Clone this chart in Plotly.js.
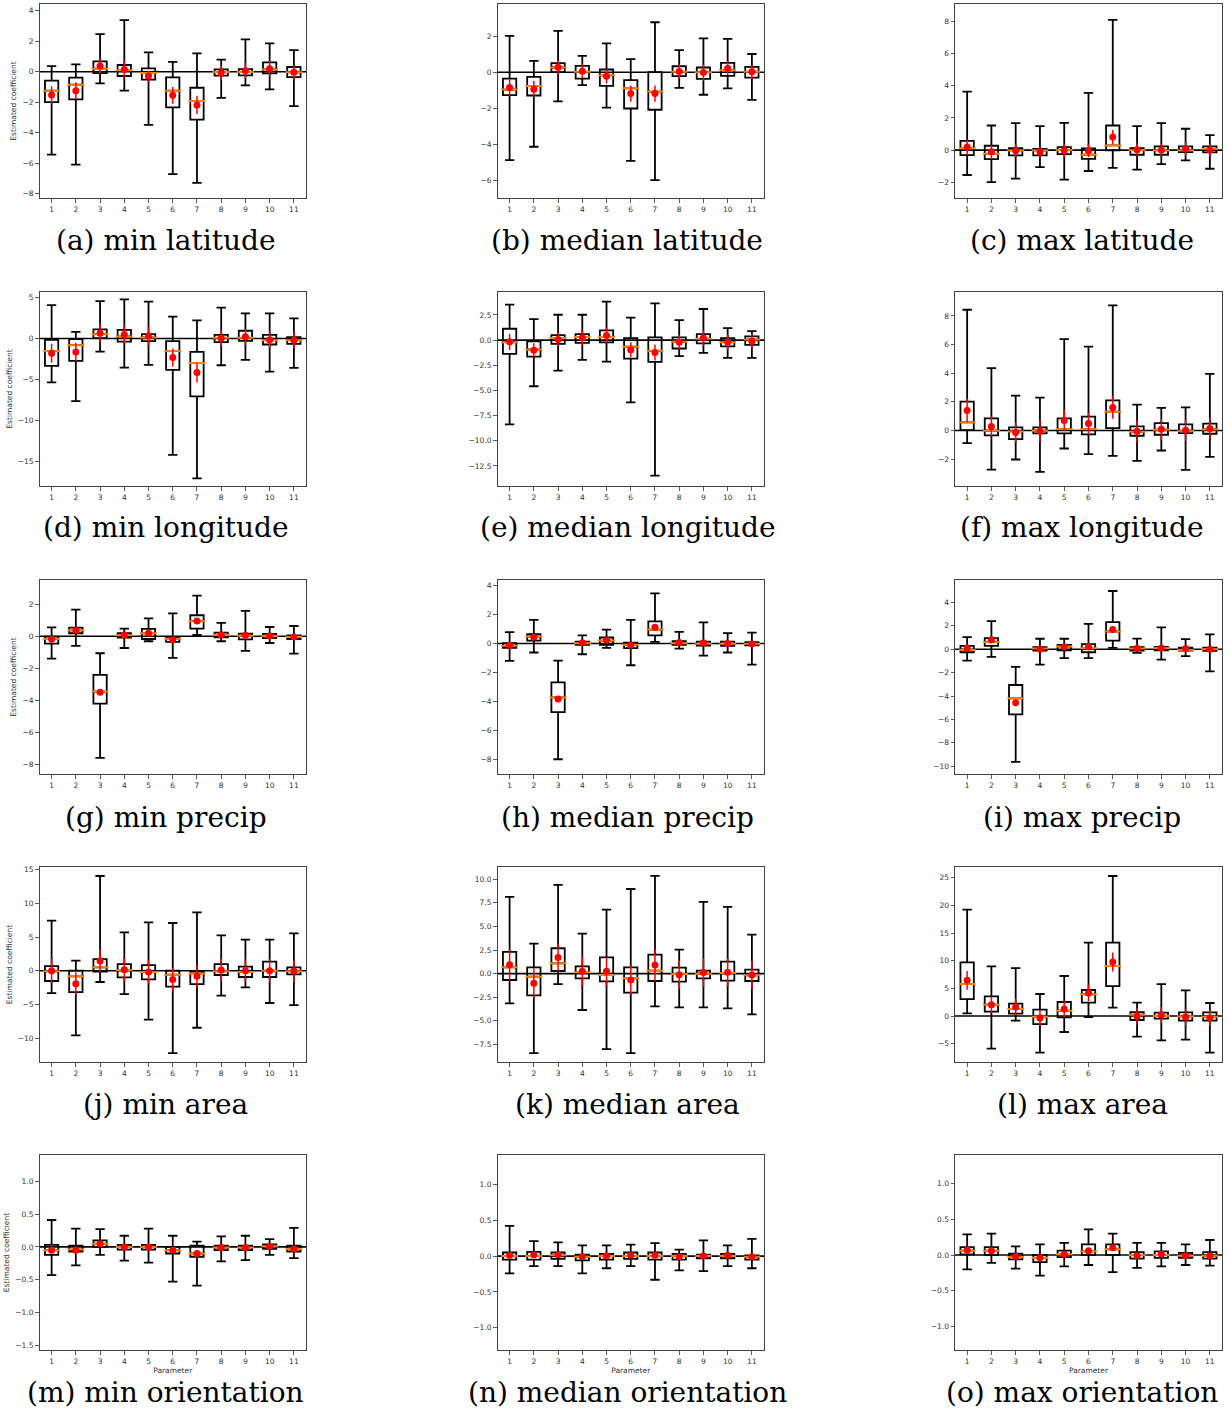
<!DOCTYPE html>
<html><head><meta charset="utf-8">
<script src="https://cdn.plot.ly/plotly-3.0.1.min.js"></script>
<style>body{margin:0;background:#fff}#chart{width:1229px;height:1412px}</style>
</head><body><div id="chart"></div>
<script>
const params = [1,2,3,4,5,6,7,8,9,10,11];
const captions = ['(a) min latitude','(b) median latitude','(c) max latitude',
  '(d) min longitude','(e) median longitude','(f) max longitude',
  '(g) min precip','(h) median precip','(i) max precip',
  '(j) min area','(k) median area','(l) max area',
  '(m) min orientation','(n) median orientation','(o) max orientation'];
const yRanges = [[-8.28,4.44],[-6.97,3.78],[-2.98,9.09],
  [-17.96,5.66],[-14.49,4.78],[-3.88,9.67],
  [-8.59,3.51],[-9.03,4.4],[-10.66,5.91],
  [-13.56,15.4],[-9.36,11.3],[-8.31,26.93],
  [-1.57,1.4],[-1.31,1.41],[-1.33,1.4]];
const yDticks = [2,2,2, 5,2.5,2, 2,2,2, 5,2.5,5, 0.5,0.5,0.5];
const yLabel = 'Estimated coefficient';
const xLabel = 'Parameter';

const upperWhisker = [
  [0.37,0.48,2.47,3.38,1.27,0.65,1.20,0.79,2.12,1.86,1.42],
  [2.01,0.63,2.29,0.90,1.60,0.72,2.77,1.22,1.88,1.85,1.01],
  [3.64,1.53,1.68,1.49,1.70,3.56,8.10,1.49,1.68,1.33,0.93],
  [4.07,0.81,4.56,4.77,4.48,2.65,2.20,3.75,3.05,3.05,2.44],
  [3.52,2.09,2.52,2.52,3.82,2.23,3.65,1.99,3.09,1.20,0.90],
  [8.43,4.35,2.43,2.29,6.38,5.86,8.74,1.80,1.57,1.61,3.95],
  [0.56,1.66,-1.06,0.48,1.12,1.43,2.54,0.83,1.58,0.58,0.64],
  [0.79,1.64,-1.18,0.56,0.97,1.64,3.47,0.81,1.46,0.72,0.76],
  [1.03,2.40,-1.51,0.89,0.89,2.17,4.97,0.91,1.86,0.86,1.26],
  [7.43,1.49,14.06,5.69,7.18,7.08,8.66,5.25,4.60,4.60,5.54],
  [8.13,3.18,9.40,4.24,6.78,8.97,10.35,2.54,7.60,7.07,4.13],
  [19.22,8.98,8.67,3.98,7.23,13.25,25.30,2.41,5.78,4.64,2.35],
  [0.41,0.28,0.27,0.17,0.28,0.17,0.08,0.16,0.17,0.12,0.29],
  [0.42,0.21,0.19,0.15,0.15,0.16,0.18,0.09,0.22,0.15,0.24],
  [0.29,0.30,0.12,0.15,0.17,0.36,0.30,0.17,0.17,0.15,0.21]];
const q3 = [
  [-0.59,-0.39,0.68,0.44,0.22,-0.37,-1.05,0.15,0.17,0.61,0.31],
  [-0.35,-0.26,0.50,0.35,0.15,-0.44,0.00,0.33,0.26,0.52,0.30],
  [0.58,0.27,0.12,0.08,0.19,0.10,1.53,0.12,0.23,0.23,0.23],
  [-0.16,-0.08,1.10,1.06,0.53,-0.33,-1.63,0.45,0.94,0.45,0.16],
  [1.13,-0.13,0.50,0.60,0.96,0.20,0.27,0.27,0.60,0.20,0.37],
  [2.01,0.84,0.21,0.21,0.84,0.96,2.10,0.28,0.51,0.42,0.47],
  [-0.02,0.54,-2.41,0.19,0.46,-0.06,1.31,0.23,0.17,0.15,0.06],
  [0.02,0.65,-2.69,0.14,0.42,0.07,1.53,0.16,0.14,0.14,0.09],
  [0.29,0.94,-3.06,0.17,0.37,0.43,2.31,0.17,0.20,0.14,0.14],
  [0.69,0.00,1.73,0.99,0.84,0.00,-0.10,0.99,0.59,1.34,0.50],
  [2.30,0.67,2.69,0.78,1.73,0.67,2.01,0.64,0.32,1.27,0.42],
  [9.70,3.55,2.23,1.14,2.53,4.70,13.25,0.72,0.60,0.66,0.66],
  [0.03,0.02,0.10,0.03,0.03,0.00,0.02,0.02,0.02,0.04,0.02],
  [0.05,0.06,0.05,0.02,0.03,0.05,0.05,0.03,0.02,0.03,0.01],
  [0.11,0.11,0.02,0.00,0.06,0.15,0.15,0.04,0.05,0.03,0.04]];
const median = [
  [-1.24,-0.85,0.20,0.09,-0.08,-1.24,-1.92,-0.02,-0.02,0.15,-0.04],
  [-0.96,-0.77,0.26,0.02,-0.17,-0.89,-1.07,0.02,0.00,0.11,0.02],
  [0.12,-0.23,-0.02,-0.02,0.00,-0.29,0.29,0.00,-0.02,-0.02,0.08],
  [-1.51,-0.81,0.53,0.24,0.12,-1.51,-2.97,0.08,0.08,-0.20,-0.20],
  [-0.20,-0.93,0.20,0.30,0.30,-0.66,-1.06,-0.17,0.13,-0.20,0.07],
  [0.56,-0.02,-0.07,-0.02,0.09,0.09,1.31,-0.09,0.05,-0.05,0.07],
  [-0.17,0.37,-3.45,0.06,0.19,-0.15,0.94,0.08,0.04,0.02,-0.04],
  [-0.16,0.49,-3.73,0.02,0.21,-0.09,0.97,0.02,-0.02,-0.02,-0.02],
  [-0.06,0.60,-4.20,0.06,0.23,0.09,1.51,0.06,0.09,-0.06,0.00],
  [-0.10,-0.84,0.50,0.05,-0.20,-0.59,-0.40,-0.10,-0.20,0.00,-0.10],
  [0.67,-0.32,1.10,0.14,-0.14,-0.49,0.32,-0.04,0.00,0.07,-0.18],
  [5.78,2.05,1.27,-0.12,0.96,3.92,9.04,0.24,0.00,-0.06,-0.12],
  [-0.05,-0.04,0.05,0.00,0.00,-0.05,-0.10,-0.01,-0.01,0.01,-0.03],
  [0.00,0.00,0.01,-0.01,0.00,0.00,0.00,0.00,0.00,0.00,-0.01],
  [0.06,0.06,-0.03,-0.04,0.01,0.05,0.08,0.00,0.00,-0.01,-0.01]];
const q1 = [
  [-1.99,-1.81,-0.09,-0.28,-0.52,-2.34,-3.14,-0.26,-0.24,-0.11,-0.35],
  [-1.27,-1.29,0.00,-0.35,-0.76,-2.01,-2.08,-0.22,-0.37,-0.20,-0.30],
  [-0.31,-0.56,-0.33,-0.33,-0.25,-0.54,-0.02,-0.29,-0.29,-0.12,-0.14],
  [-3.34,-2.73,0.04,-0.37,-0.33,-3.83,-7.05,-0.45,-0.29,-0.73,-0.65],
  [-1.36,-1.63,-0.37,-0.27,-0.23,-1.83,-2.16,-0.83,-0.33,-0.63,-0.47],
  [0.02,-0.35,-0.61,-0.21,-0.21,-0.28,0.16,-0.37,-0.30,-0.19,-0.23],
  [-0.46,0.19,-4.20,-0.08,-0.17,-0.35,0.48,-0.06,-0.19,-0.12,-0.17],
  [-0.30,0.21,-4.75,-0.09,-0.09,-0.32,0.56,-0.09,-0.14,-0.16,-0.12],
  [-0.26,0.29,-5.57,-0.11,-0.09,-0.26,0.74,-0.11,-0.09,-0.11,-0.14],
  [-1.53,-3.17,-0.15,-0.99,-1.29,-2.38,-1.98,-0.64,-0.94,-0.94,-0.54],
  [-0.67,-2.30,0.28,-0.49,-0.81,-2.01,-0.78,-0.85,-0.49,-0.74,-0.78],
  [3.07,0.78,0.42,-1.45,-0.24,2.41,5.42,-0.72,-0.48,-0.84,-0.84],
  [-0.12,-0.07,0.00,-0.04,-0.04,-0.10,-0.15,-0.05,-0.05,-0.03,-0.07],
  [-0.05,-0.05,-0.04,-0.06,-0.05,-0.04,-0.05,-0.05,-0.03,-0.03,-0.05],
  [0.01,0.00,-0.06,-0.10,-0.03,0.00,0.00,-0.05,-0.04,-0.04,-0.05]];
const lowerWhisker = [
  [-5.44,-6.09,-0.76,-1.24,-3.49,-6.72,-7.29,-1.72,-0.90,-1.16,-2.25],
  [-4.87,-4.13,-1.62,-0.72,-1.96,-4.91,-5.98,-0.87,-1.25,-0.89,-1.53],
  [-1.55,-1.99,-1.78,-1.06,-1.84,-1.30,-1.10,-1.22,-0.87,-0.64,-1.16],
  [-5.34,-7.62,-1.59,-3.54,-3.22,-14.18,-17.03,-3.26,-2.61,-4.03,-3.58],
  [-8.37,-4.58,-3.02,-1.96,-2.13,-6.18,-13.46,-1.59,-1.26,-1.76,-1.76],
  [-0.89,-2.73,-2.03,-2.90,-1.26,-1.66,-1.78,-2.13,-1.40,-2.76,-1.85],
  [-1.39,-0.60,-7.59,-0.73,-0.31,-1.35,0.08,-0.31,-0.91,-0.42,-1.08],
  [-1.20,-0.62,-8.01,-0.74,-0.30,-1.50,0.12,-0.35,-0.83,-0.62,-1.46],
  [-0.97,-0.66,-9.63,-1.31,-0.77,-0.77,0.11,-0.31,-0.89,-0.60,-1.89],
  [-3.32,-9.60,-1.68,-3.47,-7.28,-12.23,-8.47,-3.71,-2.48,-4.80,-5.10],
  [-3.14,-8.41,-1.10,-3.85,-7.99,-8.41,-3.46,-3.57,-3.57,-3.67,-4.31],
  [0.48,-5.90,-0.84,-6.63,-2.89,-0.18,1.51,-3.73,-4.40,-4.28,-6.63],
  [-0.43,-0.28,-0.12,-0.21,-0.24,-0.53,-0.59,-0.22,-0.20,-0.12,-0.17],
  [-0.24,-0.14,-0.14,-0.24,-0.17,-0.14,-0.33,-0.20,-0.21,-0.14,-0.17],
  [-0.20,-0.11,-0.19,-0.29,-0.16,-0.14,-0.24,-0.18,-0.16,-0.14,-0.15]];
const means = [
  [-1.53,-1.24,0.37,0.15,-0.28,-1.55,-2.18,-0.07,0.07,0.20,-0.04],
  [-0.85,-0.94,0.28,0.06,-0.22,-1.18,-1.18,0.04,-0.02,0.22,0.02],
  [0.19,-0.10,-0.04,-0.12,-0.04,-0.04,0.81,0.02,0.00,0.08,0.00],
  [-1.79,-1.63,0.65,0.49,0.29,-2.32,-4.15,0.04,0.20,-0.16,-0.20],
  [-0.17,-1.00,0.07,0.23,0.47,-0.96,-1.23,-0.20,0.20,-0.20,-0.10],
  [1.40,0.28,-0.14,-0.05,0.70,0.49,1.61,-0.05,0.09,0.02,0.14],
  [-0.19,0.37,-3.49,0.08,0.19,-0.21,0.96,0.08,0.06,0.04,-0.04],
  [-0.12,0.44,-3.84,0.05,0.23,-0.12,1.13,0.07,0.05,0.00,-0.02],
  [0.11,0.80,-4.57,0.00,0.20,0.20,1.69,0.09,0.11,0.06,0.00],
  [0.00,-1.93,1.44,0.15,-0.20,-1.29,-0.84,0.10,0.00,0.00,-0.05],
  [0.95,-1.02,1.70,0.25,0.25,-0.67,0.92,-0.11,0.11,0.14,-0.14],
  [6.45,2.05,1.63,-0.36,1.27,4.16,9.76,-0.06,0.18,-0.18,-0.36],
  [-0.05,-0.05,0.05,0.00,0.00,-0.05,-0.10,-0.01,-0.01,0.01,-0.03],
  [0.01,0.02,0.02,-0.01,0.00,0.01,0.01,-0.01,0.00,0.01,-0.01],
  [0.07,0.06,-0.02,-0.04,0.01,0.06,0.10,-0.01,0.01,-0.01,-0.01]];
const meanErr = [
  [0.57,0.55,0.50,0.50,0.35,0.55,0.60,0.45,0.50,0.50,0.50],
  [0.45,0.45,0.40,0.40,0.40,0.45,0.45,0.40,0.45,0.40,0.40],
  [0.45,0.40,0.40,0.35,0.40,0.40,0.45,0.40,0.40,0.45,0.40],
  [1.15,1.10,1.10,1.10,1.10,1.10,1.20,1.00,1.00,1.00,1.00],
  [0.80,0.70,0.70,0.75,0.75,0.75,0.80,0.70,0.75,0.75,0.75],
  [0.85,0.70,0.70,0.75,0.75,0.75,0.80,0.75,0.75,0.75,0.75],
  [0.15,0.15,0.15,0.15,0.15,0.15,0.15,0.15,0.15,0.15,0.15],
  [0.15,0.15,0.15,0.15,0.15,0.15,0.20,0.15,0.15,0.15,0.15],
  [0.25,0.30,0.30,0.25,0.25,0.30,0.30,0.25,0.25,0.25,0.25],
  [1.80,1.70,1.70,1.70,1.70,1.70,1.70,1.70,1.70,1.70,1.70],
  [1.70,1.60,1.50,1.50,1.50,1.50,1.70,1.50,1.50,1.50,1.50],
  [1.70,1.50,1.50,1.50,1.50,1.50,1.70,1.50,1.50,1.50,1.50],
  [0.03,0.03,0.03,0.03,0.03,0.03,0.03,0.03,0.03,0.03,0.03],
  [0.03,0.03,0.03,0.03,0.03,0.03,0.03,0.03,0.03,0.03,0.03],
  [0.03,0.03,0.03,0.03,0.03,0.03,0.03,0.03,0.03,0.03,0.03]];

// ---------- layout geometry (pixels) ----------
const W = 1229, H = 1412;
const colLeft = [39.5, 497.5, 955], colRight = [306, 764, 1222];
const rowTop = [4, 292, 580, 867, 1155], rowBottom = [198, 486, 774, 1062, 1350];
const capX = [166, 627, 1082], capY = [240, 528, 817, 1104, 1392];

const tickFont = {family: 'DejaVu Sans', size: 7.5, color: '#333'};
const traces = [], shapes = [], annotations = [];
const layout = {width: W, height: H, margin: {l:0, r:0, t:0, b:0}, autosize: false,
  paper_bgcolor: '#fff', plot_bgcolor: '#fff', showlegend: false};

for (let p = 0; p < 15; p++) {
  const row = Math.floor(p / 3), col = p % 3;
  const id = p === 0 ? '' : String(p + 1);
  const xa = 'x' + id, ya = 'y' + id;
  traces.push({type: 'box', orientation: 'v', x: params, q1: q1[p], median: median[p], q3: q3[p],
    lowerfence: lowerWhisker[p], upperfence: upperWhisker[p], xaxis: xa, yaxis: ya,
    width: 0.55, whiskerwidth: 0.7, boxpoints: false, line: {color: 'black', width: 1.8},
    fillcolor: 'rgba(255,255,255,0)', hoverinfo: 'skip'});
  traces.push({type: 'scatter', mode: 'markers', x: params, y: median[p], xaxis: xa, yaxis: ya,
    marker: {symbol: 'line-ew', size: 12, line: {color: '#ff7f0e', width: 2}}, hoverinfo: 'skip'});
  traces.push({type: 'scatter', mode: 'markers', x: params, y: means[p], xaxis: xa, yaxis: ya,
    marker: {color: 'red', size: 7},
    error_y: {type: 'data', array: meanErr[p], visible: true, color: 'red', thickness: 1.5, width: 0},
    hoverinfo: 'skip'});
  const isFrac = yDticks[p] % 1 !== 0 || yDticks[p] < 1;
  layout['xaxis' + id] = {domain: [colLeft[col] / W, colRight[col] / W], anchor: ya,
    range: [0.5, 11.5], tickvals: params, ticks: 'outside', ticklen: 3.5, tickwidth: 0.8,
    tickcolor: '#333', showline: true, mirror: true, linecolor: '#444', linewidth: 1,
    showgrid: false, zeroline: false, tickfont: tickFont,
    title: row === 4 ? {text: xLabel, font: tickFont, standoff: 2} : {text: ''}};
  layout['yaxis' + id] = {domain: [1 - rowBottom[row] / H, 1 - rowTop[row] / H], anchor: xa,
    range: yRanges[p], dtick: yDticks[p], tick0: 0, tickformat: isFrac ? '.1f' : '',
    ticks: 'outside', ticklen: 3.5, tickwidth: 0.8, tickcolor: '#333',
    showline: true, mirror: true, linecolor: '#444', linewidth: 1,
    showgrid: false, zeroline: false, tickfont: tickFont,
    title: col === 0 ? {text: yLabel, font: tickFont, standoff: 4} : {text: ''}};
  shapes.push({type: 'line', xref: xa + ' domain', yref: ya, x0: 0, x1: 1, y0: 0, y1: 0,
    line: {color: 'black', width: 1.6}, layer: 'below'});
  annotations.push({text: captions[p], xref: 'paper', yref: 'paper',
    x: capX[col] / W, y: 1 - capY[row] / H, xanchor: 'center', yanchor: 'middle',
    showarrow: false, font: {family: 'DejaVu Serif', size: 28, color: '#000'}});
}
layout.shapes = shapes;
layout.annotations = annotations;
Plotly.newPlot('chart', traces, layout, {displayModeBar: false, staticPlot: true});
</script>
</body></html>
